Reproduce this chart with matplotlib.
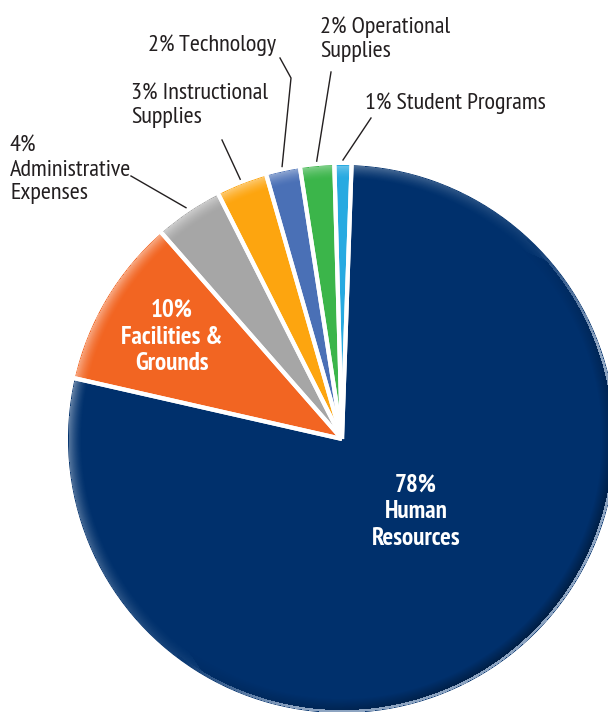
import numpy as np
import matplotlib
matplotlib.use("Agg")
import matplotlib.pyplot as plt
from matplotlib.patches import Wedge, Circle

plt.rcParams['font.family'] = ['PT Sans Narrow', 'Cabin Condensed', 'DejaVu Sans']

# data, clockwise from 12 o'clock
categories = ['Human Resources', 'Facilities & Grounds', 'Administrative Expenses',
              'Instructional Supplies', 'Technology', 'Operational Supplies',
              'Student Programs']
shares = [78, 10, 4, 3, 2, 2, 1]
colors = ['#00306c', '#f26522', '#a6a6a6', '#fda50f', '#4a70b6', '#3bb54a', '#27aae1']

inside_labels = {0: '78%\nHuman\nResources', 1: '10%\nFacilities &\nGrounds'}
outside_labels = {2: '4%\nAdministrative\nExpenses',
                  3: '3% Instructional\nSupplies',
                  4: '2% Technology',
                  5: '2% Operational\nSupplies',
                  6: '1% Student Programs'}

W, H = 608, 712
fig = plt.figure(figsize=(W / 100, H / 100), dpi=100)
ax = fig.add_axes([0, 0, 1, 1])

cx, cy, R = 342, H - 439, 274

wedges, _ = ax.pie(shares, colors=colors, startangle=88, counterclock=False,
                   center=(cx, cy), radius=R, frame=True,
                   wedgeprops=dict(edgecolor='none', linewidth=0))
ax.set_xlim(0, W)
ax.set_ylim(0, H)
ax.set_aspect('equal')
ax.axis('off')

# bevel overlay: light rim top-left, shadow bottom-right
xs = np.linspace(cx - R, cx + R, 2 * R)
ys = np.linspace(cy - R, cy + R, 2 * R)
gx, gy = np.meshgrid(xs, ys)
rr = np.hypot(gx - cx, gy - cy)
th = np.arctan2(gy - cy, gx - cx)
band = 14.0
t = np.clip((rr - (R - band)) / band, 0, 1)
light = np.clip(np.cos(th - np.deg2rad(140)), 0, 1) * 0.8 + 0.2
dark = np.clip(np.cos(th - np.deg2rad(-40)), 0, 1)
hi_a = 0.45 * t ** 1.6 * light * (1 - dark)
sh_a = 0.35 * np.clip(t * 1.3, 0, 1) * dark
img = np.zeros(gx.shape + (4,))
img[..., :3] = 1.0
img[..., 3] = hi_a
use_sh = sh_a > hi_a
img[use_sh, :3] = 0.0
img[use_sh, 3] = sh_a[use_sh]
# thin pale outline on the shaded side, faded in smoothly
edge_a = 0.9 * np.clip((dark - 0.05) / 0.45, 0, 1)
edge = (rr > R - 2.5) & (edge_a > 0)
img[edge, :3] = [0.62, 0.70, 0.80]
img[edge, 3] = np.maximum(edge_a[edge], img[edge, 3])
img[rr > R] = 0
im = ax.imshow(img, extent=(cx - R, cx + R, cy - R, cy + R), origin='lower',
               zorder=3, interpolation='bilinear')
im.set_clip_path(Circle((cx, cy), R, transform=ax.transData))

# white separators between slices
for w in wedges:
    for a in (w.theta1, w.theta2):
        ang = np.deg2rad(a)
        ax.plot([cx, cx + (R + 1) * np.cos(ang)], [cy, cy + (R + 1) * np.sin(ang)],
                color='white', lw=3, solid_capstyle='butt', zorder=4)

# inner labels
inner_pos = {0: (416, 512), 1: (172, 337)}
for i, txt in inside_labels.items():
    x, y = inner_pos[i]
    ax.text(x, H - y, txt, color='white', fontsize=18, fontweight='bold',
            ha='center', va='center', linespacing=1.2, zorder=5)

# outer labels with leader lines
text_pos = {2: (10, 170), 3: (131, 106), 4: (148, 45), 5: (320, 39), 6: (365, 103)}
line_start = {2: (131, 176), 3: (222, 140), 4: (280, 58), 5: (331, 72), 6: (371, 118)}
for i, txt in outside_labels.items():
    x, y = text_pos[i]
    ax.text(x, H - y, txt, color='#231f20', fontsize=17.5, ha='left', va='center',
            linespacing=1.15, zorder=5)
    w = wedges[i]
    mid = np.deg2rad((w.theta1 + w.theta2) / 2)
    ex, ey = cx + (R + 5) * np.cos(mid), cy + (R + 5) * np.sin(mid)
    sx, sy = line_start[i]
    if i == 4:
        ax.plot([sx, 291, ex], [H - sy, H - 78, ey], color='#231f20', lw=1, zorder=5)
    else:
        ax.plot([sx, ex], [H - sy, ey], color='#231f20', lw=1, zorder=5)

fig.savefig('out.png', dpi=100, facecolor='white')
